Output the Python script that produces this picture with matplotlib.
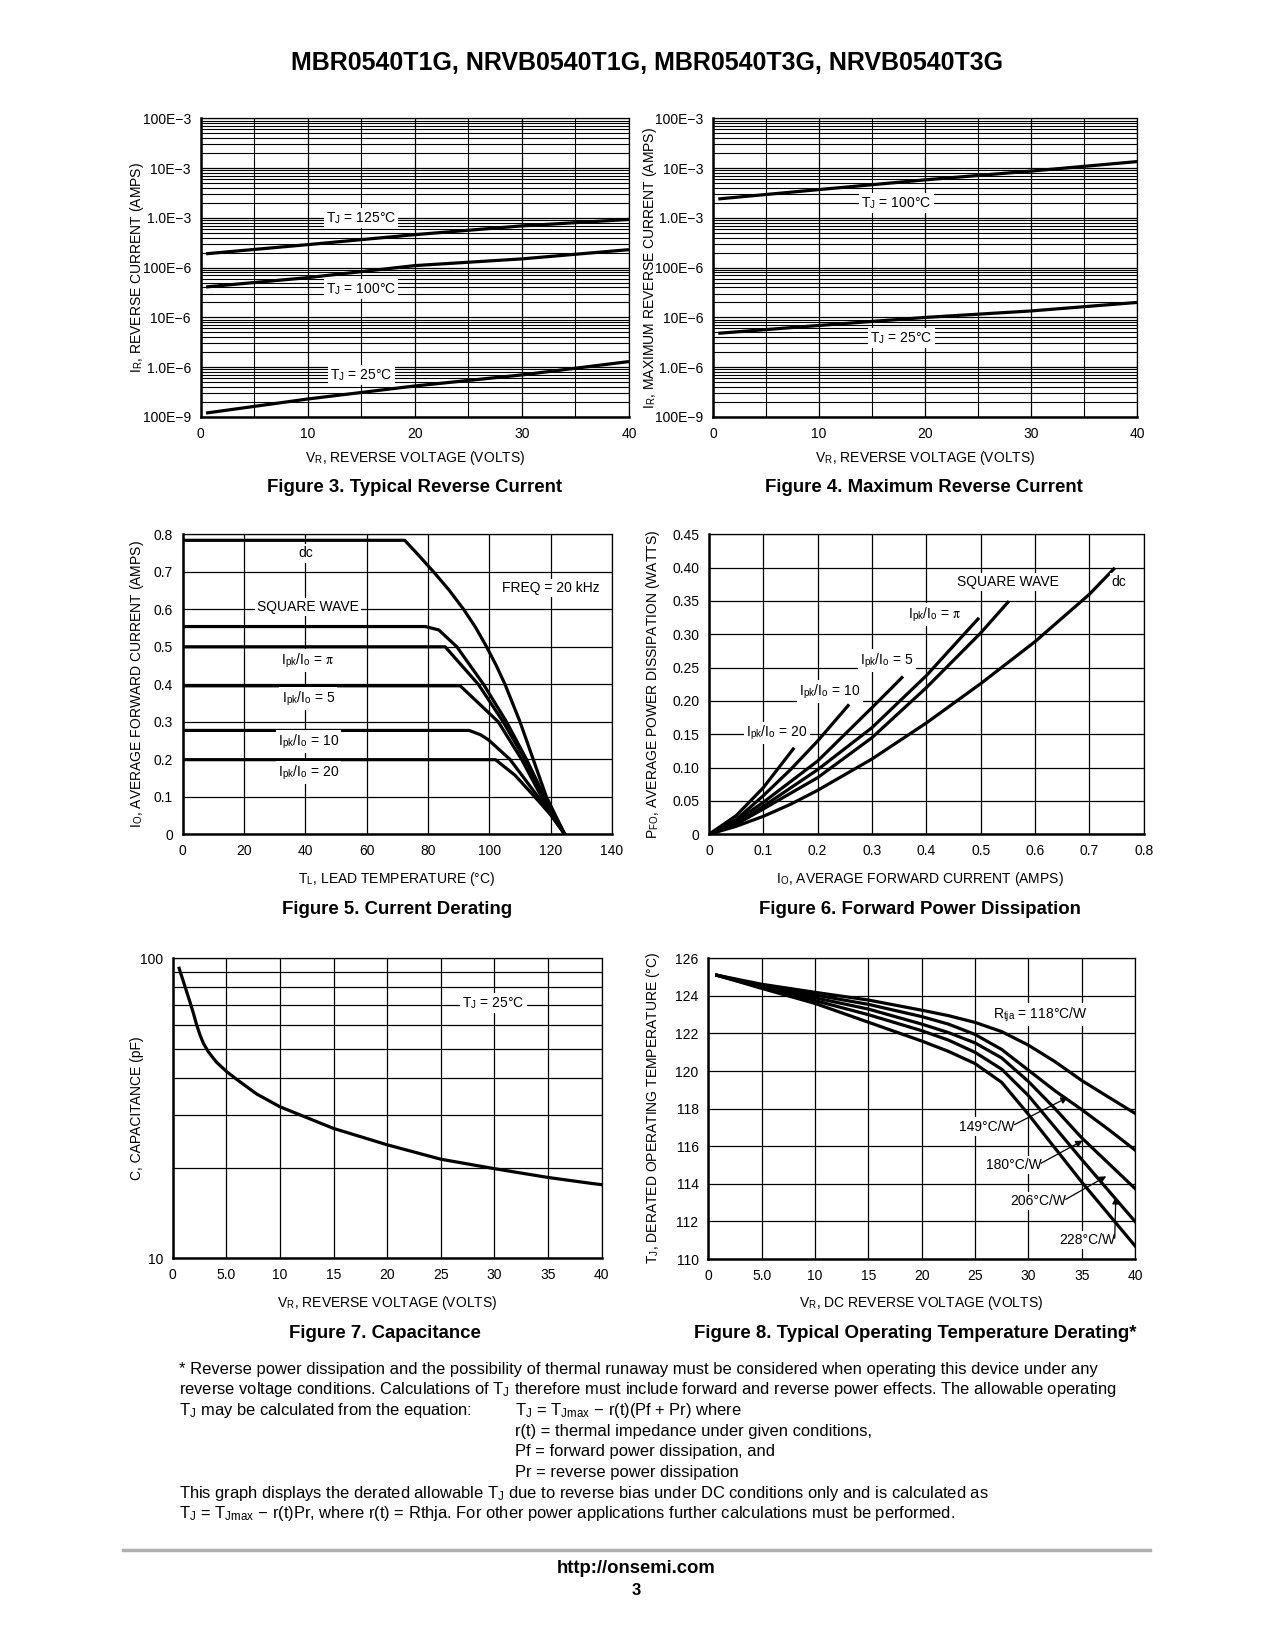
import numpy as np
import matplotlib
matplotlib.use('Agg')
import matplotlib.pyplot as plt

# ---------------- data ----------------
# Figure 3 typical reverse current
V3 = [0.5, 10, 20, 30, 40]
IR3_125 = [1.9e-4, 2.9e-4, 4.6e-4, 6.9e-4, 9.3e-4]
IR3_100 = [4.1e-5, 6.3e-5, 1.1e-4, 1.5e-4, 2.3e-4]
IR3_25 = [1.2e-7, 2.3e-7, 4.2e-7, 7.0e-7, 1.3e-6]
# Figure 4 maximum reverse current
V4 = [0.5, 10, 20, 30, 40]
IR4_100 = [2.4e-3, 3.7e-3, 5.8e-3, 8.7e-3, 1.35e-2]
IR4_25 = [4.8e-6, 6.9e-6, 1.0e-5, 1.35e-5, 2.0e-5]
LOG_TICKS = [1e-7, 1e-6, 1e-5, 1e-4, 1e-3, 1e-2, 1e-1]
LOG_LABELS = ['100E−9', '1.0E−6', '10E−6', '100E−6', '1.0E−3', '10E−3', '100E−3']

# Figure 5 current derating
T5_dc = [0, 72.4, 76.5, 81.8, 86.8, 91.6, 95.5, 99.1, 102.2, 105.1, 110.0, 114.3, 118.6, 124.6]
I5_dc = [0.784, 0.784, 0.748, 0.700, 0.652, 0.600, 0.552, 0.500, 0.451, 0.400, 0.300, 0.200, 0.100, 0.0]
T5_sq = [0, 79.1, 83.5, 89.4, 98.1, 105.6, 112.1, 118.0, 124.6]
I5_sq = [0.554, 0.554, 0.545, 0.500, 0.400, 0.300, 0.200, 0.100, 0.0]
T5_pi = [0, 85.6, 96.4, 104.5, 111.6, 117.5, 124.6]
I5_pi = [0.50, 0.50, 0.400, 0.300, 0.200, 0.100, 0.0]
T5_5 = [0, 90.5, 102.9, 110.5, 117.0, 124.6]
I5_5 = [0.396, 0.396, 0.300, 0.200, 0.100, 0.0]
T5_10 = [0, 93.4, 97.0, 99.7, 106.7, 115.9, 124.6]
I5_10 = [0.277, 0.277, 0.266, 0.252, 0.200, 0.100, 0.0]
T5_20 = [0, 102.0, 108.3, 114.8, 120.2, 124.6]
I5_20 = [0.199, 0.199, 0.158, 0.100, 0.050, 0.0]

# Figure 6 forward power dissipation
I6_dc = [0, 0.05, 0.1, 0.15, 0.2, 0.3, 0.4, 0.5, 0.6, 0.7, 0.745]
P6_dc = [0, 0.012, 0.027, 0.045, 0.066, 0.113, 0.167, 0.226, 0.289, 0.36, 0.398]
I6_sq = [0, 0.05, 0.1, 0.2, 0.3, 0.4, 0.5, 0.55]
P6_sq = [0, 0.015, 0.038, 0.085, 0.145, 0.22, 0.302, 0.348]
I6_pi = [0, 0.05, 0.1, 0.2, 0.3, 0.4, 0.495]
P6_pi = [0, 0.016, 0.042, 0.097, 0.16, 0.238, 0.323]
I6_5 = [0, 0.05, 0.1, 0.2, 0.3, 0.355]
P6_5 = [0, 0.02, 0.048, 0.11, 0.19, 0.235]
I6_10 = [0, 0.05, 0.1, 0.15, 0.2, 0.256]
P6_10 = [0, 0.022, 0.058, 0.097, 0.14, 0.193]
I6_20 = [0, 0.05, 0.1, 0.155]
P6_20 = [0, 0.028, 0.07, 0.128]

# Figure 7 capacitance
V7 = [0.6, 1.3, 1.6, 1.93, 2.24, 2.55, 2.86, 3.32, 3.8, 4.1, 5.0, 5.96, 7.83, 10, 15, 20, 25, 30, 35, 38.9, 40]
C7 = [92.6, 77.4, 71.7, 65.6, 59.9, 55.5, 52.1, 48.8, 46.4, 45.0, 42.0, 39.5, 35.3, 32.0, 27.1, 23.9, 21.4, 19.9, 18.6, 17.8, 17.6]

# Figure 8 derating
V8 = [0.8, 5, 10, 15, 20, 22.5, 25, 27.5, 30, 32.5, 35, 37.5, 40]
T8_118 = [125.1, 124.62, 124.19, 123.78, 123.24, 122.95, 122.59, 122.1, 121.38, 120.5, 119.5, 118.62, 117.75]
T8_149 = [125.1, 124.55, 124.05, 123.55, 122.9, 122.5, 121.95, 121.15, 120.05, 118.95, 117.95, 116.9, 115.8]
T8_180 = [125.1, 124.5, 123.9, 123.3, 122.5, 122.05, 121.5, 120.7, 119.45, 118.0, 116.45, 115.1, 113.75]
T8_206 = [125.1, 124.45, 123.75, 123.0, 122.15, 121.65, 121.0, 120.1, 118.7, 117.0, 115.3, 113.65, 112.0]
T8_228 = [125.1, 124.4, 123.6, 122.6, 121.6, 121.05, 120.4, 119.4, 117.7, 115.9, 114.1, 112.4, 110.7]

# ---------------- style ----------------
W, H = 1276, 1651
REG = 'Liberation Sans'
plt.rcParams['font.family'] = [REG, 'DejaVu Sans']
plt.rcParams['mathtext.fontset'] = 'stix'

fig = plt.figure(figsize=(W / 100, H / 100), dpi=100)
fig.patch.set_facecolor('white')

LW = 2.3      # curve width
GLW = 0.9     # grid width
TFS = 10.0    # tick font size
LFS = 10.0    # label font size
CFS = 13.4    # caption font size


def rect(l, t, r, b):
    return [l / W, 1 - b / H, (r - l) / W, (b - t) / H]


def ftext(x, y, s, **kw):
    kw.setdefault('ha', 'center')
    kw.setdefault('va', 'center')
    return fig.text(x / W, 1 - y / H, s, **kw)


def style(ax):
    for s in ['top', 'right']:
        ax.spines[s].set_linewidth(GLW)
    for s in ['left', 'bottom']:
        ax.spines[s].set_linewidth(1.8)
    ax.tick_params(which='both', length=0, labelsize=TFS, pad=7)
    ax.grid(True, which='major', color='black', lw=GLW)
    ax.set_axisbelow(True)


BOX = dict(facecolor='white', edgecolor='none', pad=1.5)


def lab(ax, x, y, s, **kw):
    kw.setdefault('ha', 'center')
    kw.setdefault('va', 'center')
    ax.text(x, y, s, fontsize=LFS, bbox=BOX, zorder=5, **kw)


# title
ftext(647, 63, 'MBR0540T1G, NRVB0540T1G, MBR0540T3G, NRVB0540T3G', fontsize=18, weight='bold')

# ---------------- Fig 3 & 4 ----------------
minor_vals = []
for d in range(-7, -1):
    for m in [2, 3, 4, 5, 6, 7, 8, 9]:
        minor_vals.append(m * 10.0 ** d)

TJ = r'T$_\mathregular{J}$'
VRL = r'V$_\mathregular{R}$' + ', REVERSE VOLTAGE (VOLTS)'


def logpanel(rc, curves, labels, ylab, ylx):
    ax = fig.add_axes(rect(*rc))
    ax.set_yscale('log')
    ax.set_xlim(0, 40)
    ax.set_ylim(1e-7, 1e-1)
    ax.set_xticks([0, 10, 20, 30, 40])
    ax.set_xticks(np.arange(0, 41, 5), minor=True)
    ax.set_yticks(LOG_TICKS)
    ax.set_yticklabels(LOG_LABELS)
    ax.set_yticks(minor_vals, minor=True)
    ax.yaxis.set_minor_formatter(plt.NullFormatter())
    style(ax)
    ax.grid(True, which='minor', color='black', lw=0.8)
    for xs, ys in curves:
        ax.plot(xs, ys, color='black', lw=LW, solid_capstyle='butt', zorder=4)
    for x, y, s in labels:
        lab(ax, x, y, s)
    l, t, r, b = rc
    ftext((l + r) / 2, 458, VRL, fontsize=LFS)
    ftext(ylx, (t + b) / 2, ylab, fontsize=LFS, rotation=90)
    return ax


logpanel((200.7, 118.3, 629, 417),
         [(V3, IR3_125), (V3, IR3_100), (V3, IR3_25)],
         [(15, 1.0e-3, TJ + ' = 125°C'), (15, 3.7e-5, TJ + ' = 100°C'), (15, 7e-7, TJ + ' = 25°C')],
         r'I$_\mathregular{R}$' + ', REVERSE CURRENT (AMPS)', 137)
logpanel((713, 118.3, 1137, 417),
         [(V4, IR4_100), (V4, IR4_25)],
         [(17.3, 2.0e-3, TJ + ' = 100°C'), (17.8, 3.8e-6, TJ + ' = 25°C')],
         r'I$_\mathregular{R}$' + ', MAXIMUM REVERSE CURRENT (AMPS)', 650)
ftext(415, 488, 'Figure 3. Typical Reverse Current', fontsize=CFS, weight='bold')
ftext(924, 488, 'Figure 4. Maximum Reverse Current', fontsize=CFS, weight='bold')

# ---------------- Fig 5 ----------------
ax5 = fig.add_axes(rect(182.7, 534.3, 612, 834.3))
ax5.set_xlim(0, 140)
ax5.set_ylim(0, 0.8)
ax5.set_xticks(np.arange(0, 141, 20))
ax5.set_yticks(np.arange(0, 0.81, 0.1))
ax5.set_yticklabels(['0', '0.1', '0.2', '0.3', '0.4', '0.5', '0.6', '0.7', '0.8'])
style(ax5)
for xs, ys in [(T5_dc, I5_dc), (T5_sq, I5_sq), (T5_pi, I5_pi), (T5_5, I5_5), (T5_10, I5_10), (T5_20, I5_20)]:
    ax5.plot(xs, ys, color='black', lw=LW, zorder=4)
PK = r'I$_\mathregular{pk}$/I$_\mathregular{o}$'
lab(ax5, 40.2, 0.749, 'dc')
lab(ax5, 40.8, 0.607, 'SQUARE WAVE')
lab(ax5, 40.8, 0.463, PK + r' = $\mathrm{\pi}$')
lab(ax5, 41, 0.363, PK + ' = 5')
lab(ax5, 41, 0.247, PK + ' = 10')
lab(ax5, 41, 0.165, PK + ' = 20')
lab(ax5, 120, 0.656, 'FREQ = 20 kHz')
ftext(397, 879, r'T$_\mathregular{L}$' + ', LEAD TEMPERATURE (°C)', fontsize=LFS)
ftext(137, 684, r'I$_\mathregular{O}$' + ', AVERAGE FORWARD CURRENT (AMPS)', fontsize=LFS, rotation=90)
ftext(397, 909, 'Figure 5. Current Derating', fontsize=CFS, weight='bold')

# ---------------- Fig 6 ----------------
ax6 = fig.add_axes(rect(709, 534.3, 1143.7, 834.3))
ax6.set_xlim(0, 0.8)
ax6.set_ylim(0, 0.45)
ax6.set_xticks(np.arange(0, 0.81, 0.1))
ax6.set_xticklabels(['0', '0.1', '0.2', '0.3', '0.4', '0.5', '0.6', '0.7', '0.8'])
ax6.set_yticks(np.arange(0, 0.451, 0.05))
ax6.set_yticklabels(['0', '0.05', '0.10', '0.15', '0.20', '0.25', '0.30', '0.35', '0.40', '0.45'])
style(ax6)
for xs, ys in [(I6_dc, P6_dc), (I6_sq, P6_sq), (I6_pi, P6_pi), (I6_5, P6_5), (I6_10, P6_10), (I6_20, P6_20)]:
    ax6.plot(xs, ys, color='black', lw=LW, zorder=4)
lab(ax6, 0.551, 0.378, 'SQUARE WAVE')
lab(ax6, 0.755, 0.378, 'dc')
lab(ax6, 0.416, 0.33, PK + r' = $\mathrm{\pi}$')
lab(ax6, 0.327, 0.261, PK + ' = 5')
lab(ax6, 0.223, 0.214, PK + ' = 10')
lab(ax6, 0.125, 0.152, PK + ' = 20')
ftext(920, 879, r'I$_\mathregular{O}$' + ', AVERAGE FORWARD CURRENT (AMPS)', fontsize=LFS)
ftext(653, 684, r'P$_\mathregular{FO}$' + ', AVERAGE POWER DISSIPATION (WATTS)', fontsize=LFS, rotation=90)
ftext(920, 909, 'Figure 6. Forward Power Dissipation', fontsize=CFS, weight='bold')

# ---------------- Fig 7 ----------------
ax7 = fig.add_axes(rect(172.7, 958.3, 601.5, 1258.3))
ax7.set_yscale('log')
ax7.set_xlim(0, 40)
ax7.set_ylim(10, 100)
ax7.set_xticks(np.arange(0, 41, 5))
ax7.set_xticklabels(['0', '5.0', '10', '15', '20', '25', '30', '35', '40'])
ax7.set_yticks([10, 100])
ax7.set_yticklabels(['10', '100'])
ax7.set_yticks([20, 30, 40, 50, 60, 70, 80, 90], minor=True)
ax7.yaxis.set_minor_formatter(plt.NullFormatter())
style(ax7)
ax7.grid(True, which='minor', axis='y', color='black', lw=GLW)
ax7.plot(V7, C7, color='black', lw=LW, zorder=4)
lab(ax7, 29.9, 70.8, TJ + ' = 25°C')
ftext(387, 1303, VRL, fontsize=LFS)
ftext(137, 1108, 'C, CAPACITANCE (pF)', fontsize=LFS, rotation=90)
ftext(385, 1333, 'Figure 7. Capacitance', fontsize=CFS, weight='bold')

# ---------------- Fig 8 ----------------
ax8 = fig.add_axes(rect(708.3, 958.3, 1135, 1259))
ax8.set_xlim(0, 40)
ax8.set_ylim(110, 126)
ax8.set_xticks(np.arange(0, 41, 5))
ax8.set_xticklabels(['0', '5.0', '10', '15', '20', '25', '30', '35', '40'])
ax8.set_yticks(np.arange(110, 127, 2))
style(ax8)
for ys in [T8_118, T8_149, T8_180, T8_206, T8_228]:
    ax8.plot(V8, ys, color='black', lw=LW, zorder=4)
lab(ax8, 31.1, 123.0, r'R$_\mathregular{tja}$' + ' = 118°C/W')
AP = dict(arrowstyle='-|>', color='black', lw=0.9, mutation_scale=10, shrinkA=0, shrinkB=0)
for (tx, ty, s, ax_, ay_) in [(26.1, 117.05, '149°C/W', 33.7, 118.6),
                              (28.6, 115.0, '180°C/W', 35.1, 116.3),
                              (30.9, 113.07, '206°C/W', 37.3, 114.4),
                              (35.5, 111.0, '228°C/W', 38.2, 113.3)]:
    ax8.annotate('', xy=(ax_, ay_), xytext=(tx + 2.6, ty + 0.1), arrowprops=AP, zorder=6)
    lab(ax8, tx, ty, s)
ftext(921, 1303, r'V$_\mathregular{R}$' + ', DC REVERSE VOLTAGE (VOLTS)', fontsize=LFS)
ftext(653, 1108, r'T$_\mathregular{J}$' + ', DERATED OPERATING TEMPERATURE (°C)', fontsize=LFS, rotation=90)
ftext(915, 1333, 'Figure 8. Typical Operating Temperature Derating*', fontsize=CFS, weight='bold')

# ---------------- footnote ----------------
FN = 11.85
TJs = r'T$_\mathregular{J}$'
TJm = r'T$_\mathregular{Jmax}$'
X0, X1 = 179, 515
Y0 = 1369
DY = 20.7
lines_left = [
    '* Reverse power dissipation and the possibility of thermal runaway must be considered when operating this device under any',
    'reverse voltage conditions. Calculations of ' + TJs + ' therefore must include forward and reverse power effects. The allowable operating',
    TJs + ' may be calculated from the equation:',
]
for i, s in enumerate(lines_left):
    ftext(X0, Y0 + i * DY, s, fontsize=FN, ha='left')
lines_right = [
    TJs + ' = ' + TJm + ' − r(t)(Pf + Pr) where',
    'r(t) = thermal impedance under given conditions,',
    'Pf = forward power dissipation, and',
    'Pr = reverse power dissipation',
]
for i, s in enumerate(lines_right):
    ftext(X1, Y0 + (i + 2) * DY, s, fontsize=FN, ha='left')
ftext(X0, Y0 + 6 * DY, 'This graph displays the derated allowable ' + TJs + ' due to reverse bias under DC conditions only and is calculated as', fontsize=FN, ha='left')
ftext(X0, Y0 + 7 * DY, TJs + ' = ' + TJm + ' − r(t)Pr, where r(t) = Rthja. For other power applications further calculations must be performed.', fontsize=FN, ha='left')

fig.add_artist(plt.Line2D([123 / W, 1150 / W], [1 - 1550 / H, 1 - 1550 / H], color='#b0b0b0', lw=2.5))
ftext(636, 1568, 'http://onsemi.com', fontsize=13.3, weight='bold')
ftext(636, 1590, '3', fontsize=12, weight='bold')

fig.savefig('out.png', dpi=100, facecolor='white')
